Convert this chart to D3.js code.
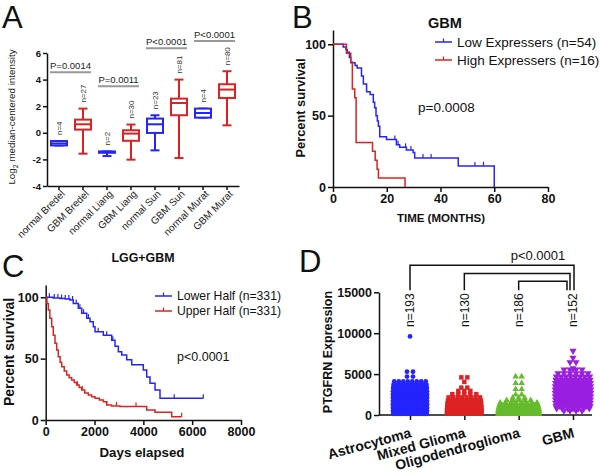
<!DOCTYPE html>
<html><head><meta charset="utf-8">
<script src="https://cdn.jsdelivr.net/npm/d3@7"></script>
<style>
body{margin:0;background:#fff;}
svg{display:block;font-family:"Liberation Sans",Arial,sans-serif;}
</style></head><body>
<svg id="c" width="600" height="474"></svg>
<script>
// ---------- Panel A data ----------
const catsA = ["normal Bredel","GBM Bredel","normal Liang","GBM Liang","normal Sun","GBM Sun","normal Murat","GBM Murat"];
const typeA = ["normal","GBM","normal","GBM","normal","GBM","normal","GBM"];
const minA = [-0.95,-1.57,-1.75,-2.02,-1.32,-1.9,1.14,0.56];
const q1A  = [-0.95,0.24,-1.5,-0.6,-0.01,1.32,1.14,2.62];
const medA = [-0.8,0.64,-1.45,-0.06,0.64,2.24,1.49,3.25];
const q3A  = [-0.62,0.99,-1.4,0.19,1.07,2.57,1.82,3.65];
const maxA = [-0.62,1.82,-1.4,0.62,1.32,4.0,1.82,4.63];
const nA   = [4,27,2,30,23,81,4,80];
const ticksA = [-4,-2,0,2,4,6];
const sigTextA = ["P=0.0014","P=0.0011","P<0.0001","P<0.0001"];
const sigFromA = [0,2,4,6];
const sigToA   = [1,3,5,7];
const sigLevelA = [4.55,3.5,6.36,6.9];

// ---------- Panel B data ----------
const timeLowB = [0,3.8,4.8,5.3,6.1,6.6,8.2,9.0,10.6,11.3,12.5,13.8,15.0,15.5,16.0,16.5,16.9,17.4,19.9,23.6,24.8,27.3,29.8,30.4,46.6,60];
const survLowB = [100,98.1,96.3,94.4,90.7,87.0,85.2,83.3,77.8,72.2,66.7,64.8,59.3,55.6,50.0,46.3,42.6,35.2,33.3,29.6,27.8,25.9,24.1,20.4,14.8,0];
const censLowB = [23,24.2,27,29,33.5,36.5,52.8,56];
const timeHighB = [0,5.0,6.6,7.2,8.1,8.6,14.7,15.7,16.4,16.9,26.8];
const survHighB = [100,93.75,87.5,68.75,62.5,31.25,25,18.75,12.5,6.25,0];
const censHighB = [];
const ticksXB = [0,20,40,60,80];
const ticksYB = [0,50,100];
const legendB = ["Low Expressers (n=54)","High Expressers (n=16)"];

// ---------- Panel C data ----------
const timeLowC = [0,300,586,800,995,1130,1335,1475,1680,1815,1950,2020,2360,2703,2839,2975,3113,3318,3523,3998,4137,4273,4478,4682,6456];
const survLowC = [100,99.5,99,98.5,97.8,95,91,87,83,80,76,72,69,65,60,55.7,53,49,45,40.7,35,30,24.5,17.7,17.7];
const censLowC = [150,350,500,650,800,950,1100,1250,1400,1550,1750,2150,2500,2750,5264,6456];
const timeHighC = [0,50,107,170,246,310,381,450,516,590,655,760,860,960,1065,1170,1270,1370,1475,1600,1745,1880,2020,2200,2360,2498,2700,3044,4137,4478,5161,5570];
const survHighC = [100,95,89.7,83,76,69,62.5,57,51.6,47,43.4,40,36.7,34.5,32.6,30.5,28.5,26.5,24.4,22,20.4,19,17.7,16.2,14.9,12.2,11.5,10.9,8.1,6.3,2.7,2.7];
const censHighC = [1300,1500,2500,2900,3700,5570];
const ticksXC = [0,2000,4000,6000,8000];
const ticksYC = [0,50,100];
const legendC = ["Lower Half (n=331)","Upper Half (n=331)"];

// ---------- Panel D data ----------
const catsD = ["Astrocytoma","Mixed Glioma","Oligodendroglioma","GBM"];
const nD = [193,130,186,152];
const ticksYD = [0,5000,10000,15000];
// rows: [expression level, number of samples plotted at that level]
const astroRows = [[9600,1],[5300,2],[4700,2],[4100,8],[3700,12],[3300,16],[2900,18],[2500,20],[2100,20],[1700,20],[1300,20],[900,20],[500,19],[150,15]];
const mixedRows = [[4600,2],[4050,1],[3350,2],[2950,3],[2550,5],[2150,8],[1750,12],[1350,17],[950,22],[550,28],[200,30]];
const oligoRows = [[4700,2],[3900,2],[3150,2],[2500,2],[2100,3],[1800,5],[1500,8],[1350,8],[1200,12],[1050,10],[900,22],[650,30],[400,40],[150,40]];
const gbmRows = [[7850,1],[7000,1],[6450,2],[5700,1],[5550,4],[5100,6],[4700,8],[4300,10],[3900,12],[3500,14],[3100,16],[2700,16],[2300,15],[1900,13],[1500,12],[1100,10],[800,7],[500,4]];
const bracketFromD = ["Astrocytoma","Mixed Glioma","Oligodendroglioma"];
const bracketLevelD = [18300,17300,16350];

// ---------- drawing ----------
const svg = d3.select("#c");
svg.append("rect").attr("width",600).attr("height",474).attr("fill","#fff");
const BLUE="#2424ff", RED="#dc2222", GREEN="#66bb2e", PURPLE="#9a1ee0";

function styleAxis(g, fs, bold){
  g.select(".domain").attr("stroke","#111").attr("stroke-width",1.5);
  g.selectAll(".tick line").attr("stroke","#111").attr("stroke-width",1.5);
  g.selectAll(".tick text").attr("font-size",fs).attr("font-weight",bold?"bold":"normal")
    .attr("fill","#111").attr("font-family",'"Liberation Sans",Arial,sans-serif');
}
function letter(txt,x,y){
  svg.append("text").attr("x",x).attr("y",y).attr("font-size",31).attr("fill","#111").text(txt);
}

// ===== Panel A =====
(function(){
  const g = svg.append("g");
  const x = d3.scaleBand().domain(catsA).range([47,239]);
  const y = d3.scaleLinear().domain([-4,6]).range([186,53]);
  const cx = i => x(catsA[i]) + x.bandwidth()/2;
  const ay = g.append("g").attr("transform","translate(47,0)")
    .call(d3.axisLeft(y).tickValues(ticksA).tickSize(4).tickSizeOuter(0).tickPadding(2).tickFormat(d=>String(d)));
  styleAxis(ay,9.5,true);
  const ax = g.append("g").attr("transform","translate(0,186)")
    .call(d3.axisBottom(x).tickSize(4).tickSizeOuter(0).tickFormat(""));
  styleAxis(ax,9,false);
  catsA.forEach((c,i)=>{
    g.append("text").attr("transform",`translate(${cx(i)+4},192) rotate(-45)`)
      .attr("text-anchor","end").attr("dy","0.35em").attr("font-size",10).attr("fill","#222").text(c);
  });
  g.append("text").attr("transform","translate(15,117) rotate(-90)").attr("text-anchor","middle")
    .attr("font-size",9.8).attr("fill","#222")
    .html('Log<tspan font-size="7" dy="3">2</tspan><tspan dy="-3"> median-centered intensity</tspan>');
  catsA.forEach((c,i)=>{
    const col = typeA[i]==="normal"?BLUE:RED;
    const X = cx(i), bw=16, cw=9;
    const s = {stroke:col,"stroke-width":2,fill:"none"};
    const L = (x1,y1,x2,y2)=>{const l=g.append("line").attr("x1",x1).attr("y1",y1).attr("x2",x2).attr("y2",y2); for(const k in s) l.attr(k,s[k]);};
    L(X,y(maxA[i]),X,y(q3A[i])); L(X,y(q1A[i]),X,y(minA[i]));
    L(X-cw/2,y(maxA[i]),X+cw/2,y(maxA[i])); L(X-cw/2,y(minA[i]),X+cw/2,y(minA[i]));
    g.append("rect").attr("x",X-bw/2).attr("y",y(q3A[i])).attr("width",bw)
      .attr("height",Math.max(0.5,y(q1A[i])-y(q3A[i]))).attr("fill","#fff").attr("stroke",col).attr("stroke-width",2);
    L(X-bw/2,y(medA[i]),X+bw/2,y(medA[i]));
    g.append("text").attr("transform",`translate(${X},${y(maxA[i])-6}) rotate(-90)`).attr("dy","0.35em")
      .attr("font-size",8).attr("fill","#333").text("n="+nA[i]);
  });
  sigTextA.forEach((t,i)=>{
    const x1 = cx(sigFromA[i])-9, x2 = cx(sigToA[i])+8, yy = y(sigLevelA[i]);
    g.append("line").attr("x1",x1).attr("x2",x2).attr("y1",yy).attr("y2",yy).attr("stroke","#999").attr("stroke-width",2);
    g.append("text").attr("x",(x1+x2)/2).attr("y",yy-3).attr("text-anchor","middle").attr("font-size",9.5).attr("fill","#222").text(t);
  });
  letter("A",2,28);
})();

// ===== KM helper =====
function km(g,x,y,times,surv,color,cens){
  const pts = times.map((t,i)=>[t,surv[i]]);
  g.append("path").datum(pts).attr("d",d3.line().x(d=>x(d[0])).y(d=>y(d[1])).curve(d3.curveStepAfter))
    .attr("fill","none").attr("stroke",color).attr("stroke-width",1.5);
  const sAt = t=>{let s=surv[0]; times.forEach((tt,i)=>{if(tt<=t) s=surv[i];}); return s;};
  g.selectAll(null).data(cens).enter().append("line")
    .attr("x1",d=>x(d)).attr("x2",d=>x(d)).attr("y1",d=>y(sAt(d))).attr("y2",d=>y(sAt(d))-4)
    .attr("stroke",color).attr("stroke-width",1.2);
}
function legend(g,x0,y0,dy,labels,colors,fs){
  labels.forEach((t,i)=>{
    const yy=y0+i*dy;
    g.append("line").attr("x1",x0).attr("x2",x0+17).attr("y1",yy).attr("y2",yy).attr("stroke",colors[i]).attr("stroke-width",1.5);
    g.append("line").attr("x1",x0+8.5).attr("x2",x0+8.5).attr("y1",yy).attr("y2",yy-3.5).attr("stroke",colors[i]).attr("stroke-width",1.2);
    g.append("text").attr("x",x0+22).attr("y",yy).attr("dy","0.35em").attr("font-size",fs).attr("fill","#111").text(t);
  });
}

// ===== Panel B =====
(function(){
  const g = svg.append("g");
  const x = d3.scaleLinear().domain([0,80]).range([333,548]);
  const y = d3.scaleLinear().domain([0,110]).range([187,30]);
  const ay = g.append("g").attr("transform","translate(333,0)")
    .call(d3.axisLeft(y).tickValues(ticksYB).tickSize(5).tickSizeOuter(0).tickPadding(2));
  styleAxis(ay,12.5,true);
  const ax = g.append("g").attr("transform","translate(0,187)")
    .call(d3.axisBottom(x).tickValues(ticksXB).tickSize(5).tickSizeOuter(0).tickPadding(2));
  styleAxis(ax,12.5,true);
  km(g,x,y,timeLowB,survLowB,BLUE,censLowB);
  km(g,x,y,timeHighB,survHighB,RED,censHighB);
  g.append("text").attr("x",445).attr("y",23).attr("dy","0.35em").attr("text-anchor","middle")
    .attr("font-size",14.5).attr("font-weight","bold").attr("fill","#111").text("GBM");
  legend(g,435,42,18,legendB,[BLUE,RED],13.5);
  g.append("text").attr("x",418).attr("y",107).attr("dy","0.35em").attr("font-size",13.5).attr("fill","#111").text("p=0.0008");
  g.append("text").attr("x",441).attr("y",218).attr("dy","0.35em").attr("text-anchor","middle")
    .attr("font-size",11.5).attr("font-weight","bold").attr("fill","#111").text("TIME (MONTHS)");
  g.append("text").attr("transform","translate(305,108) rotate(-90)").attr("text-anchor","middle")
    .attr("font-size",12.8).attr("font-weight","bold").attr("fill","#111").text("Percent survival");
  letter("B",292,28);
})();

// ===== Panel C =====
(function(){
  const g = svg.append("g");
  const x = d3.scaleLinear().domain([0,8000]).range([45.7,241]);
  const y = d3.scaleLinear().domain([0,110]).range([420,285]);
  const ay = g.append("g").attr("transform","translate(45.7,0)")
    .call(d3.axisLeft(y).tickValues(ticksYC).tickSize(5).tickSizeOuter(0).tickPadding(2).tickFormat(d3.format("d")));
  styleAxis(ay,12.5,true);
  const ax = g.append("g").attr("transform","translate(0,420)")
    .call(d3.axisBottom(x).tickValues(ticksXC).tickSize(5).tickSizeOuter(0).tickPadding(2).tickFormat(d3.format("d")));
  styleAxis(ax,12.5,true);
  km(g,x,y,timeLowC,survLowC,BLUE,censLowC);
  km(g,x,y,timeHighC,survHighC,RED,censHighC);
  g.append("text").attr("x",143).attr("y",258).attr("dy","0.35em").attr("text-anchor","middle")
    .attr("font-size",12.4).attr("font-weight","bold").attr("fill","#111").text("LGG+GBM");
  legend(g,155,296,15,legendC,[BLUE,RED],12.2);
  g.append("text").attr("x",177).attr("y",357).attr("dy","0.35em").attr("font-size",12.5).attr("fill","#111").text("p<0.0001");
  g.append("text").attr("x",142).attr("y",452).attr("dy","0.35em").attr("text-anchor","middle")
    .attr("font-size",13.3).attr("font-weight","bold").attr("fill","#111").text("Days elapsed");
  g.append("text").attr("transform","translate(14,352) rotate(-90)").attr("text-anchor","middle")
    .attr("font-size",14).attr("font-weight","bold").attr("fill","#111").text("Percent survival");
  letter("C",2,277);
})();

// ===== Panel D =====
(function(){
  const g = svg.append("g");
  const x = d3.scalePoint().domain(catsD).range([410,573]);
  const y = d3.scaleLinear().domain([0,15000]).range([415,292.3]);
  const ay = g.append("g").attr("transform","translate(379,0)")
    .call(d3.axisLeft(y).tickValues(ticksYD).tickSize(5).tickSizeOuter(0).tickPadding(2).tickFormat(d3.format("d")));
  styleAxis(ay,12.5,true);
  const ax = g.append("g").attr("transform","translate(0,415)")
    .call(d3.axisBottom(x).tickSize(5).tickSizeOuter(0).tickFormat(""));
  styleAxis(ax,12,true);
  ax.select(".domain").attr("d","M379,0H592");
  catsD.forEach(c=>{
    g.append("text").attr("transform",`translate(${x(c)+2},437) rotate(-15)`).attr("text-anchor","end")
      .attr("font-size",14).attr("font-weight","bold").attr("fill","#111").text(c);
  });
  g.append("text").attr("transform","translate(332,352) rotate(-90)").attr("text-anchor","middle")
    .attr("font-size",12.5).attr("font-weight","bold").attr("fill","#111").text("PTGFRN Expression");
  const swarm = (rows,cat,sym,size,color,rot,W)=>{
    const X = x(cat);
    rows.forEach(([v,c],r)=>{
      const s = Math.min(6,W/c);
      for(let i=0;i<c;i++){
        const dx=(i-(c-1)/2)*s;
        g.append("path").attr("d",d3.symbol(sym,size)())
          .attr("transform",`translate(${X+dx},${y(v)})${rot?" rotate(180)":""}`).attr("fill",color);
      }
    });
  };
  swarm(astroRows,"Astrocytoma",d3.symbolCircle,18,BLUE,false,36);
  swarm(mixedRows,"Mixed Glioma",d3.symbolSquare,20,RED,false,36);
  swarm(oligoRows,"Oligodendroglioma",d3.symbolTriangle,18,GREEN,false,42);
  swarm(gbmRows,"GBM",d3.symbolTriangle,22,PURPLE,true,38);
  catsD.forEach((c,i)=>{
    g.append("text").attr("transform",`translate(${x(c)},327) rotate(-90)`).attr("dy","0.35em")
      .attr("font-size",12).attr("fill","#111").text("n="+nD[i]);
  });
  const offs = [1,-3,-6];
  bracketFromD.forEach((c,i)=>{
    const yy = y(bracketLevelD[i]), yb = y(15250);
    const x1 = x(c), x2 = x("GBM")+offs[i];
    g.append("path").attr("d",`M${x1},${yb}V${yy}H${x2}V${yb}`).attr("fill","none").attr("stroke","#111").attr("stroke-width",1.5);
  });
  g.append("text").attr("x",538).attr("y",255).attr("dy","0.35em").attr("text-anchor","middle")
    .attr("font-size",13).attr("fill","#111").text("p<0.0001");
  letter("D",299,272);
})();
</script>
</body></html>
